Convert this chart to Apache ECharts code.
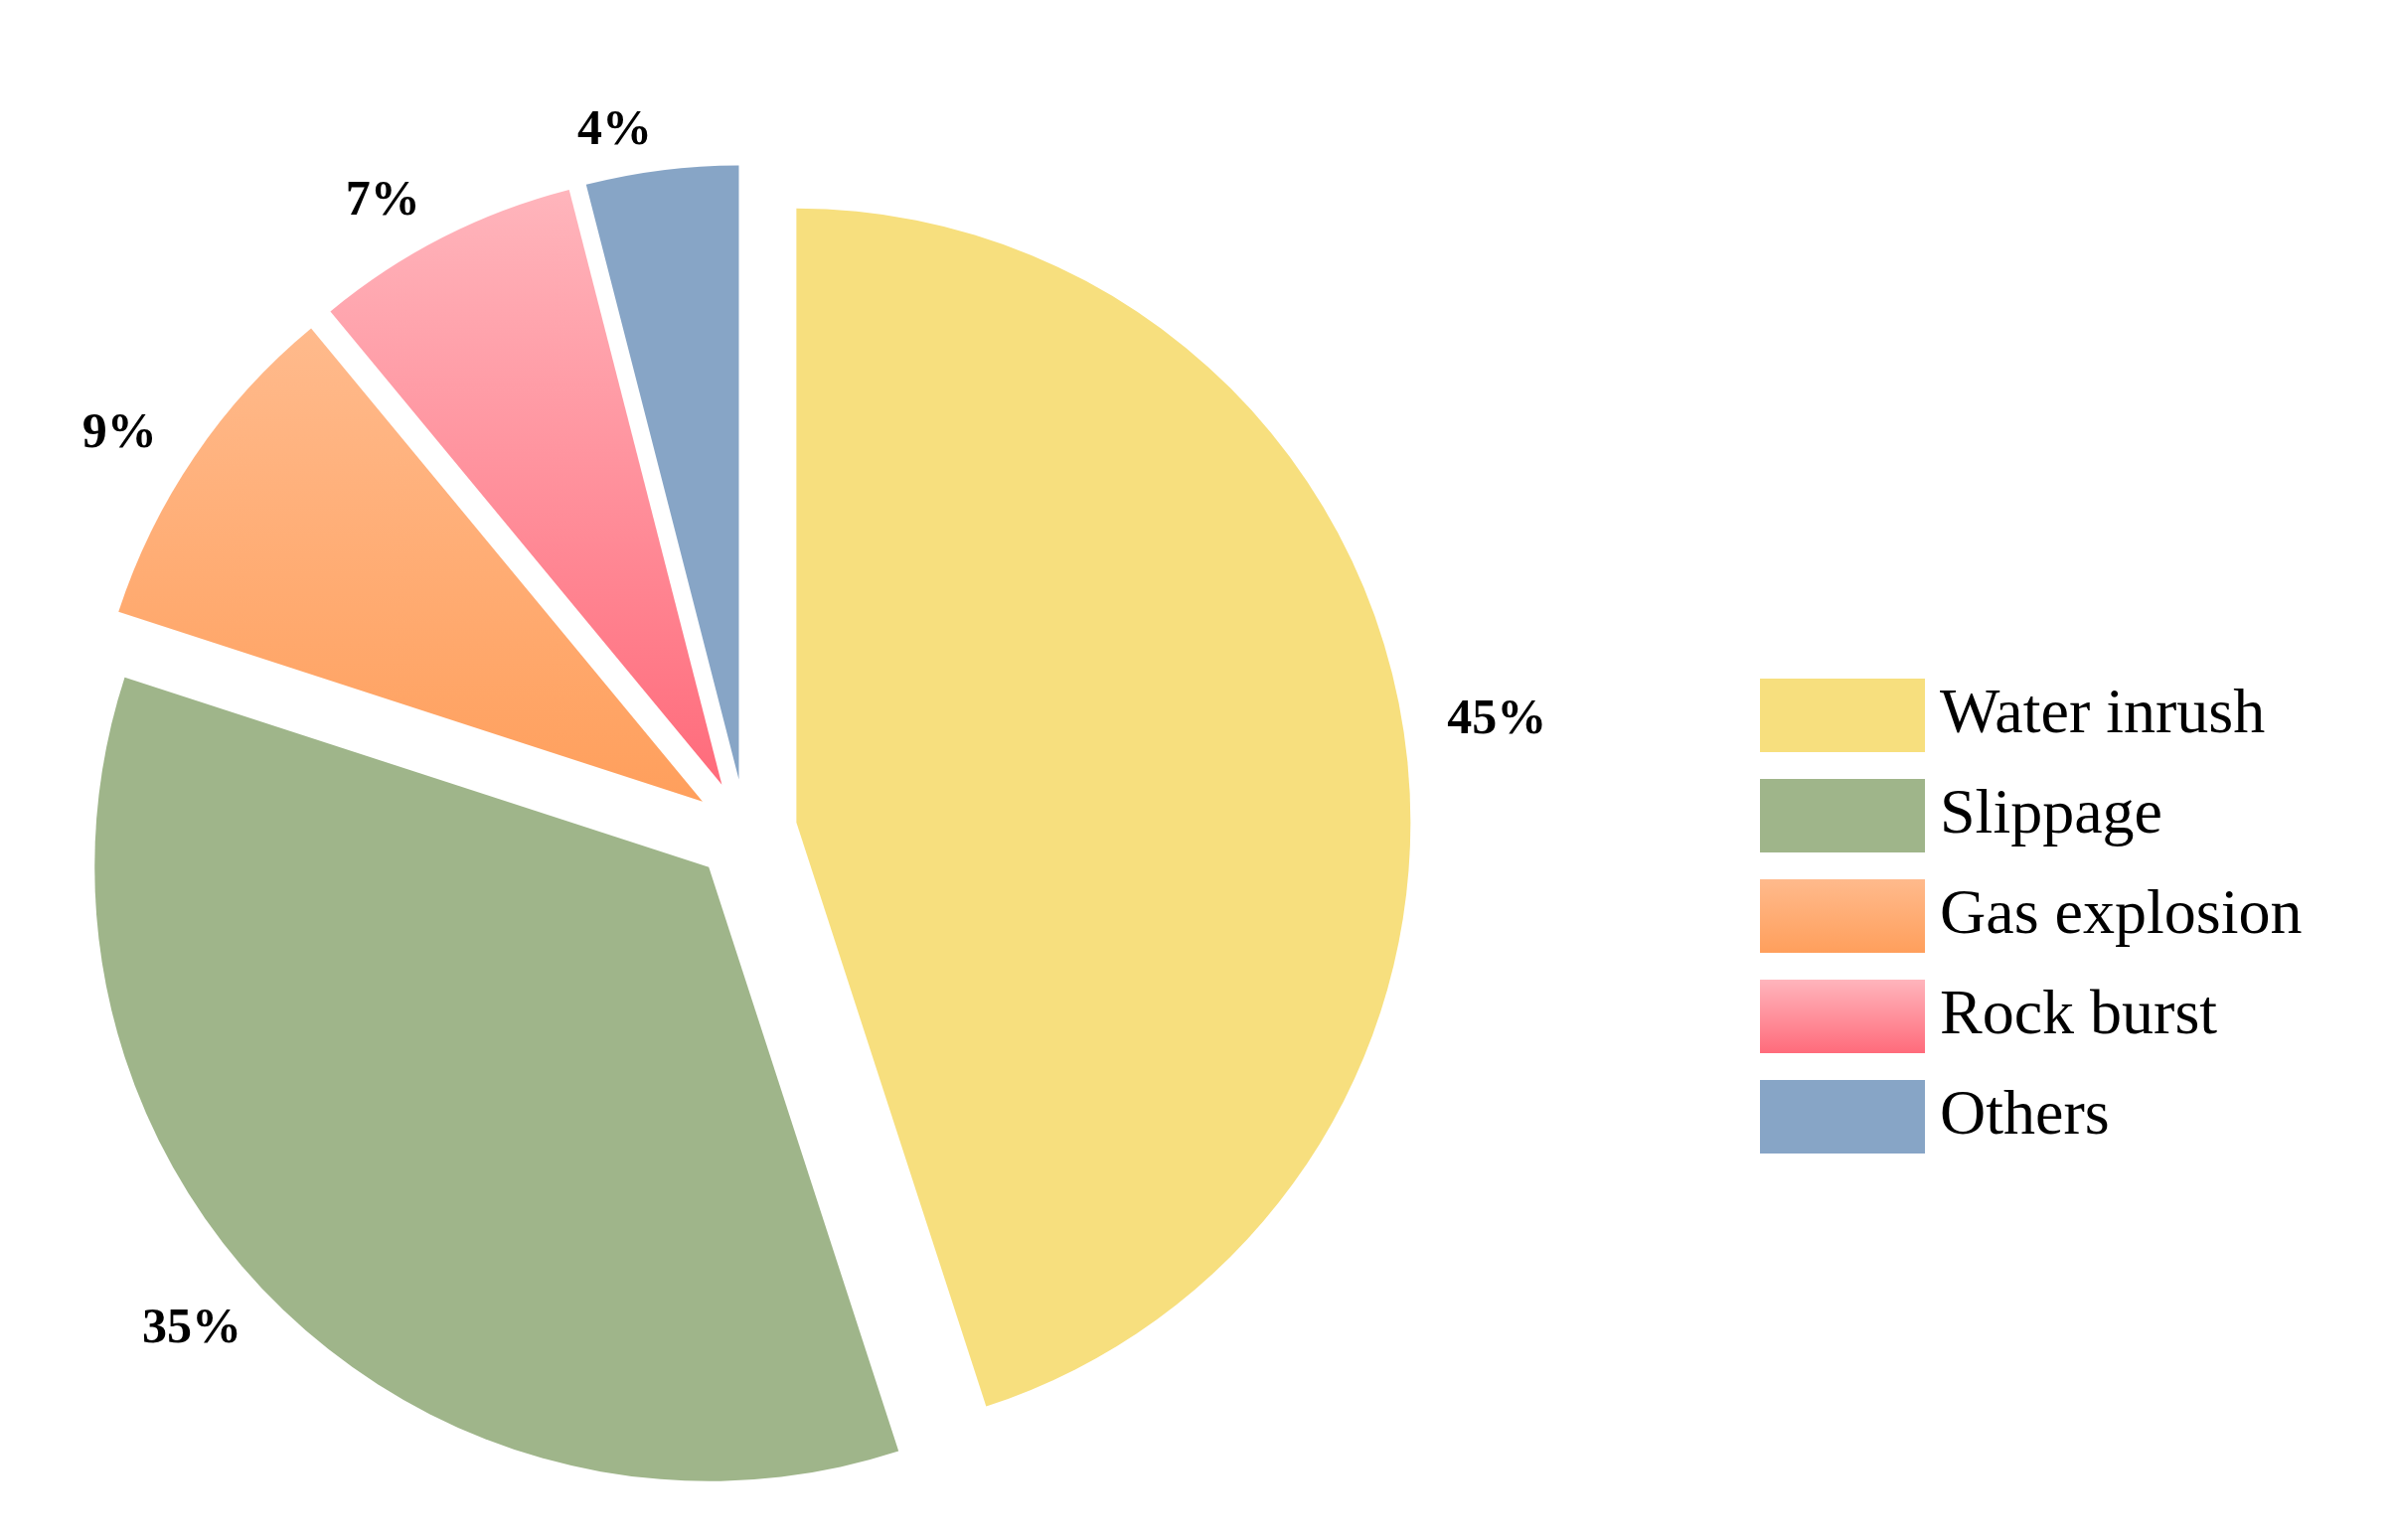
<!DOCTYPE html>
<html>
<head>
<meta charset="utf-8">
<script src="https://cdn.jsdelivr.net/npm/echarts@6/dist/echarts.min.js"></script>
<style>html,body{margin:0;background:#fff}#c{width:2411px;height:1550px}</style>
</head>
<body>
<div id="c"></div>
<script>
// accident types and shares (%)
var categories = ['Water inrush', 'Slippage', 'Gas explosion', 'Rock burst', 'Others'];
var shares = [45, 35, 9, 7, 4];

function grad(a, b) {
  return new echarts.graphic.LinearGradient(0, 0, 0, 1, [{ offset: 0, color: a }, { offset: 1, color: b }]);
}
var fills = [
  '#F7DF7E',
  '#9FB58A',
  grad('#FFBA8C', '#FF9F5C'),
  grad('#FFB5BC', '#FF6B7B'),
  '#87A5C6'
];

var chart = echarts.init(document.getElementById('c'));
chart.setOption({
  animation: false,
  legend: {
    orient: 'vertical',
    left: 1766,
    top: 678,
    itemWidth: 166,
    itemHeight: 74,
    itemGap: 27,
    icon: 'rect',
    selectedMode: false,
    textStyle: { fontFamily: 'Liberation Serif', fontSize: 64, color: '#000', padding: [0, 0, 0, 10] },
    data: categories
  },
  series: [{
    type: 'pie',
    center: [750, 836],
    radius: [0, 618],
    startAngle: 90,
    clockwise: true,
    selectedMode: 'multiple',
    selectedOffset: 52,
    label: {
      show: true,
      position: 'outside',
      formatter: '{c}%',
      fontFamily: 'Liberation Serif',
      fontWeight: 'bold',
      fontSize: 50,
      color: '#000'
    },
    labelLine: { show: false, length: 40, length2: 0 },
    data: categories.map(function (n, i) {
      return { name: n, value: shares[i], selected: true, itemStyle: { color: fills[i] } };
    })
  }]
});
</script>
</body>
</html>
